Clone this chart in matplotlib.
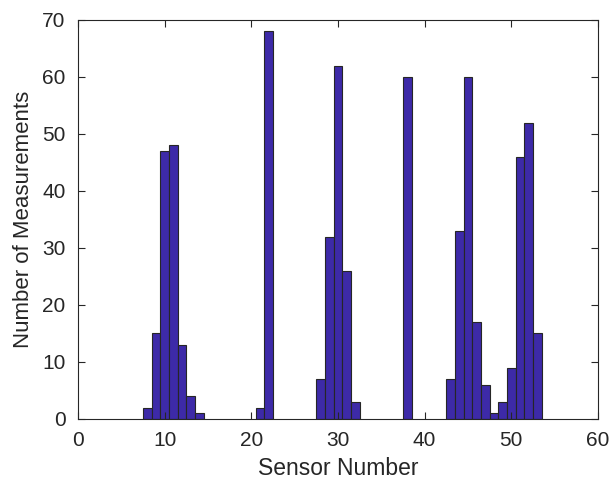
import matplotlib.pyplot as plt

sensors = [8, 9, 10, 11, 12, 13, 14,
           21, 22,
           28, 29, 30, 31, 32,
           38,
           43, 44, 45, 46, 47, 48, 49, 50, 51, 52, 53]
counts = [2, 15, 47, 48, 13, 4, 1,
          2, 68,
          7, 32, 62, 26, 3,
          60,
          7, 33, 60, 17, 6, 1, 3, 9, 46, 52, 15]

x_ticks = [0, 10, 20, 30, 40, 50, 60]
y_ticks = [0, 10, 20, 30, 40, 50, 60, 70]

plt.rcParams['font.family'] = ['Liberation Sans', 'DejaVu Sans']

fig = plt.figure(figsize=(6.11, 4.84), dpi=100)
ax = fig.add_axes([0.1277, 0.1343, 0.851, 0.8244])

ax.bar(sensors, counts, width=1.0, color='#3d2aa8', edgecolor='#262626', linewidth=0.8)

ax.set_xlim(0, 60)
ax.set_ylim(0, 70)
ax.set_xticks(x_ticks)
ax.set_yticks(y_ticks)
ax.tick_params(direction='in', top=True, right=True, labelsize=15, colors='#262626',
               length=5, width=0.8)
ax.tick_params(axis='x', pad=9)
ax.tick_params(axis='y', pad=9)
for s in ax.spines.values():
    s.set_color('#262626')
    s.set_linewidth(0.8)

ax.set_xlabel('Sensor Number', fontsize=16.5, color='#262626', labelpad=5)
ax.set_ylabel('Number of Measurements', fontsize=16, color='#262626', labelpad=6)

fig.savefig('out.png', dpi=100)
